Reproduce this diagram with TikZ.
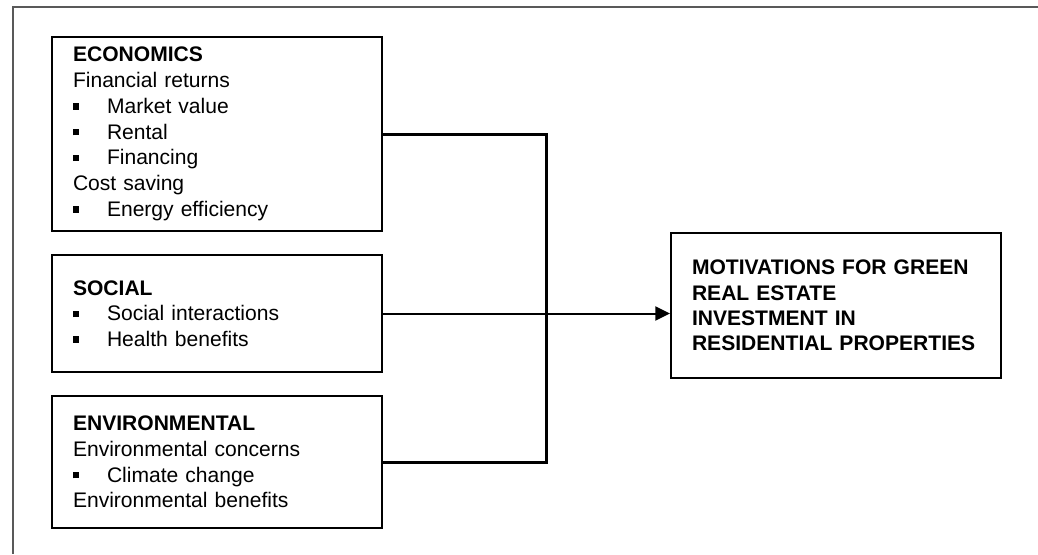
\documentclass[tikz,border=0pt]{standalone}
\usepackage{fontspec}
\setmainfont{Liberation Sans}
\usetikzlibrary{arrows.meta}
\usetikzlibrary{positioning}

\newcommand{\itembox}{\makebox[25.5pt][l]{\rule[2.8pt]{4.8pt}{4.8pt}}}

\begin{document}
\begin{tikzpicture}[x=0.75pt,y=-0.75pt]
	 \tikzstyle{factor}=[draw,line width=1.5pt,rectangle,minimum width=247.5pt,inner xsep=15.75pt,inner ysep=0pt,text width=216pt,align=left,font=\fontsize{15.8}{19.3}\selectfont]
	 \tikzstyle{goalbox}=[factor,minimum width=246pt,minimum height=108.75pt,font=\fontsize{15.8}{19}\selectfont\bfseries]
	 \tikzstyle{link} = [draw,line width=2.25pt,black]
	 \tikzstyle{arrowline} = [draw,line width=1.5pt,black,-{Triangle[length=11pt,width=10.5pt]}]
	 \useasboundingbox (0,0) rectangle (1038,554);
	 \draw[gray!70!black,line width=1.2pt] (1038,7) -- (13,7) -- (13,554);

	 \node[factor,minimum height=145.5pt] (econ) at (217,134) {\textbf{ECONOMICS}\\
	   Financial returns\\
	   \itembox Market value\\
	   \itembox Rental\\
	   \itembox Financing\\
	   Cost saving\\
	   \itembox Energy efficiency};
	 \node[factor,minimum height=87.75pt] (social) at (217,313.5) {\textbf{SOCIAL}\\
	   \itembox Social interactions\\
	   \itembox Health benefits};
	 \node[factor,minimum height=99pt] (env) at (217,462) {\textbf{ENVIRONMENTAL}\\
	   Environmental concerns\\
	   \itembox Climate change\\
	   Environmental benefits};
	 \node[goalbox] (goal) at (836,305.5) {MOTIVATIONS FOR GREEN\\
	   REAL ESTATE\\
	   INVESTMENT IN\\
	   RESIDENTIAL PROPERTIES};

	 \coordinate (join) at (546,313);
	 \draw[link] (econ.east) -| (join) |- (env.east);
	 \draw[arrowline] (social.east) -- (social.east -| goal.west);
 \end{tikzpicture}
\end{document}
